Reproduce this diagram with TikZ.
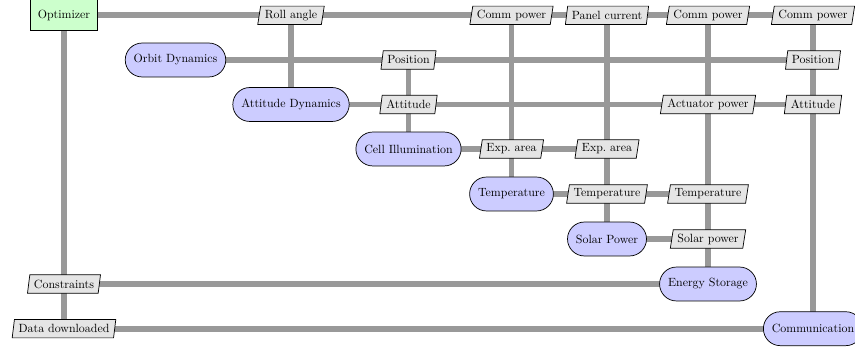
\documentclass[tikz,border=0pt]{standalone}
\usetikzlibrary{shapes.geometric,backgrounds}
\definecolor{linegray}{RGB}{153,153,153}
\tikzset{
  optbox/.style={rectangle, draw, semithick, fill=green!20, minimum height=26pt, inner xsep=6.3pt, inner ysep=0pt},
  funcbox/.style={rectangle, draw, semithick, fill=blue!20, rounded corners=14.2pt, minimum height=28.5pt, inner xsep=7.1pt, inner ysep=0pt},
  databox/.style={trapezium, trapezium left angle=75, trapezium right angle=105, trapezium stretches=true, draw, semithick, fill=gray!20, minimum height=15.4pt, inner xsep=3.5pt, inner ysep=0pt},
  conn/.style={draw=linegray, line width=5pt},
}
\begin{document}
\begin{tikzpicture}[x=0.84pt, y=-0.84pt]
\useasboundingbox (0,0) rectangle (855,352);
% columns: 64, 175.5, 291, 408.5, 511.5, 607, 708, 813
% rows: 15.3, 60, 104.5, 149, 194, 239, 284, 328.7
\node[optbox] (opt) at (64,15.3) {Optimizer};
\node[funcbox] (orb) at (175.5,60) {Orbit Dynamics};
\node[funcbox] (att) at (291,104.5) {Attitude Dynamics};
\node[funcbox] (cell) at (408.5,149) {Cell Illumination};
\node[funcbox] (temp) at (511.5,194) {Temperature};
\node[funcbox] (sol) at (607,239) {Solar Power};
\node[funcbox] (ener) at (708,284) {Energy Storage};
\node[funcbox] (comm) at (813,328.7) {Communication};
% row 0
\node[databox] (d02) at (291,15.3) {Roll angle};
\node[databox] (d04) at (511.5,15.3) {Comm power};
\node[databox] (d05) at (607,15.3) {Panel current};
\node[databox] (d06) at (708,15.3) {Comm power};
\node[databox] (d07) at (813,15.3) {Comm power};
% row 1
\node[databox] (d13) at (408.5,60) {Position};
\node[databox] (d17) at (813,60) {Position};
% row 2
\node[databox] (d23) at (408.5,104.5) {Attitude};
\node[databox] (d26) at (708,104.5) {Actuator power};
\node[databox] (d27) at (813,104.5) {Attitude};
% row 3
\node[databox] (d34) at (511.5,149) {Exp.\ area};
\node[databox] (d35) at (607,149) {Exp.\ area};
% row 4
\node[databox] (d45) at (607,194) {Temperature};
\node[databox] (d46) at (708,194) {Temperature};
% row 5
\node[databox] (d56) at (708,239) {Solar power};
% row 6, 7
\node[databox] (d60) at (64,284) {Constraints};
\node[databox] (d70) at (64,328.7) {Data downloaded};
\begin{scope}[on background layer]
\draw[conn] (opt.center) -- (d07.center);
\draw[conn] (orb.center) -- (d17.center);
\draw[conn] (att.center) -- (d27.center);
\draw[conn] (cell.center) -- (d35.center);
\draw[conn] (temp.center) -- (d46.center);
\draw[conn] (sol.center) -- (d56.center);
\draw[conn] (d60.center) -- (ener.center);
\draw[conn] (d70.center) -- (comm.center);
\draw[conn] (opt.center) -- (d70.center);
\draw[conn] (d02.center) -- (att.center);
\draw[conn] (d13.center) -- (cell.center);
\draw[conn] (d04.center) -- (temp.center);
\draw[conn] (d05.center) -- (sol.center);
\draw[conn] (d06.center) -- (ener.center);
\draw[conn] (d07.center) -- (comm.center);
\end{scope}
\end{tikzpicture}
\end{document}
